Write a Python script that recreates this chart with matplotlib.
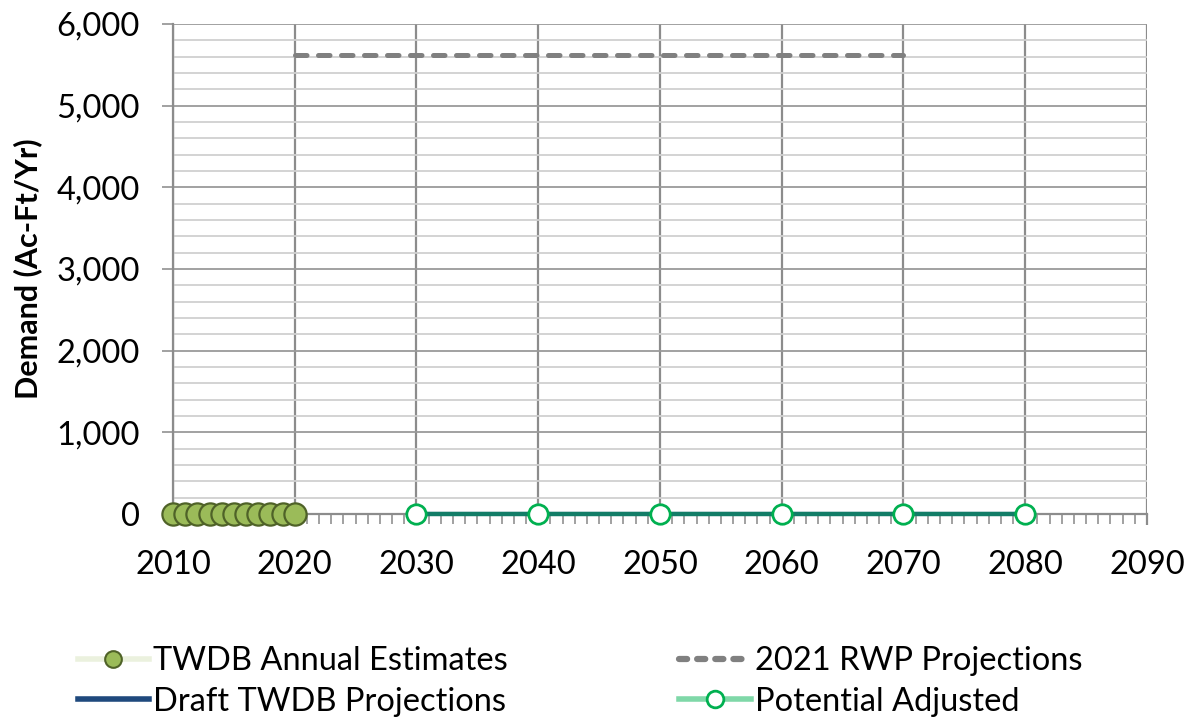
import numpy as np
import matplotlib
matplotlib.use("Agg")
from matplotlib import pyplot as plt
from matplotlib.lines import Line2D
from matplotlib.ticker import FuncFormatter, MultipleLocator

plt.rcParams['font.family'] = ['Lato', 'DejaVu Sans']

# data
annual_years = [2010, 2011, 2012, 2013, 2014, 2015, 2016, 2017, 2018, 2019, 2020]
annual_vals = [0, 0, 0, 0, 0, 0, 0, 0, 0, 0, 0]
rwp_years = [2020, 2030, 2040, 2050, 2060, 2070]
rwp_vals = [5620, 5620, 5620, 5620, 5620, 5620]
draft_years = [2030, 2040, 2050, 2060, 2070, 2080]
draft_vals = [0, 0, 0, 0, 0, 0]
adj_years = [2030, 2040, 2050, 2060, 2070, 2080]
adj_vals = [0, 0, 0, 0, 0, 0]

fig = plt.figure(figsize=(11.94, 7.21), dpi=100)
ax = fig.add_axes([0.1449, 0.2871, 0.8157, 0.6796])

ax.set_xlim(2010, 2090)
ax.set_ylim(0, 6000)

# grid
ax.yaxis.set_major_locator(MultipleLocator(1000))
ax.yaxis.set_minor_locator(MultipleLocator(200))
ax.xaxis.set_major_locator(MultipleLocator(10))
ax.xaxis.set_minor_locator(MultipleLocator(1))
ax.grid(which='minor', axis='y', color='#d0d0d0', lw=1.3)
ax.grid(which='major', axis='y', color='#9a9a9a', lw=1.3)
ax.grid(which='major', axis='x', color='#8c8c8c', lw=1.6)
ax.set_axisbelow(True)

for s in ['top', 'right']:
    ax.spines[s].set_visible(False)
ax.spines['left'].set_color('#8c8c8c')
ax.spines['left'].set_linewidth(1.6)
ax.spines['bottom'].set_color('#8c8c8c')
ax.spines['bottom'].set_linewidth(1.6)

ax.tick_params(axis='y', which='major', length=8, width=1.3, color='#9a9a9a', labelsize=23.5, pad=16)
ax.tick_params(axis='y', which='minor', length=0)
ax.tick_params(axis='x', which='major', length=8, width=1.6, color='#8c8c8c', labelsize=23.5, pad=18)
ax.tick_params(axis='x', which='minor', length=7, width=1.3, color='#9a9a9a')
ax.yaxis.set_major_formatter(FuncFormatter(lambda v, p: f"{int(v):,}"))

ax.set_ylabel("Demand (Ac-Ft/Yr)", fontsize=22, fontweight='bold', labelpad=10)

# series
ax.plot(rwp_years, rwp_vals, color='#808080', lw=3.6, ls=(0, (2.3, 2.3)),
        dash_capstyle='round', zorder=3)
ax.plot(draft_years, draft_vals, color='#1F497D', lw=3, zorder=3)
ax.plot(adj_years, adj_vals, color='#127D67', lw=3.2, marker='o', ms=14,
        mfc='white', mec='#00B050', mew=2, zorder=4, clip_on=False)
ax.plot(annual_years, annual_vals, color='none', marker='o', ms=16,
        mfc='#9BBB59', mec='#4F6228', mew=1.6, zorder=5, clip_on=False)

handles = [
    Line2D([], [], color='#EBF1DE', lw=4, marker='o', ms=12, mfc='#9BBB59', mec='#4F6228', mew=1.5),
    Line2D([], [], color='#1F497D', lw=4),
    Line2D([], [], color='#808080', lw=4.5, ls=(0, (1.3, 1.6)), dash_capstyle='round'),
    Line2D([], [], color='#7FD8A8', lw=4, marker='o', ms=12, mfc='white', mec='#00B050', mew=2),
]
labels = ["TWDB Annual Estimates", "Draft TWDB Projections",
          "2021 RWP Projections", "Potential Adjusted"]
fig.legend(handles, labels, loc='lower left', bbox_to_anchor=(0.054, -0.012), ncol=2,
           frameon=False, fontsize=23.5, handlelength=2.2, handletextpad=0.12,
           columnspacing=5.25, labelspacing=0.32, borderaxespad=0)

fig.savefig("out.png", dpi=100)
